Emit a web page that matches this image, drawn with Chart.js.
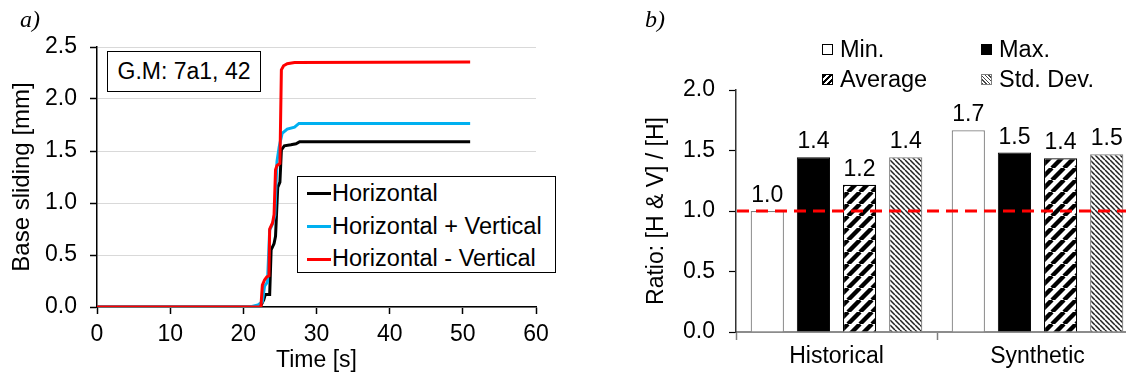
<!DOCTYPE html>
<html>
<head>
<meta charset="utf-8">
<script src="https://cdn.jsdelivr.net/npm/chart.js@4"></script>
<style>
html, body { margin: 0; overflow: hidden; background: #fff; }
body { width: 1126px; height: 376px; position: relative; font-family: "Liberation Sans", Arial, sans-serif; color: #000; }
canvas { position: absolute; top: 0; }
#slide { left: 0; }
#ratio { left: 560px; }
.panel { position: absolute; font-family: "Liberation Serif", "Times New Roman", serif; font-style: italic; font-size: 24px; }
.gm { position: absolute; left: 107px; top: 51px; width: 152px; height: 39px; border: 1.5px solid #000; font-size: 23px; line-height: 39px; text-align: center; background: #fff; }
.lgA { position: absolute; left: 297px; top: 176px; width: 257px; height: 95px; border: 1.5px solid #000; background: #fff; }
.lgA .row { position: absolute; left: 9px; font-size: 23.5px; height: 26px; line-height: 26px; white-space: nowrap; }
.lgA .ln { display: inline-block; width: 24px; height: 3px; vertical-align: middle; margin-right: 1px; position: relative; top: -1px; }
.lgB { position: absolute; font-size: 23.5px; height: 26px; line-height: 26px; white-space: nowrap; }
.sw { display: inline-block; width: 11px; height: 11px; vertical-align: middle; margin-right: 7px; position: relative; top: -1px; box-sizing: border-box; }
</style>
</head>
<body>
<canvas id="slide" width="560" height="376"></canvas>
<canvas id="ratio" width="600" height="376"></canvas>

<div class="panel" style="left:20px;top:6px">a)</div>
<div class="panel" style="left:645px;top:6px">b)</div>
<div class="gm">G.M: 7a1, 42</div>
<div class="lgA" id="legendA"></div>
<div id="legendB"></div>

<script>
// (a) base sliding time histories
const timeH  = [0, 22.3, 22.8, 23.0, 23.6, 23.8, 24.2, 24.4, 24.7, 25.0, 25.2, 25.6, 26.5, 27.2, 27.7, 51];
const slideH = [0, 0, 0.07, 0.12, 0.12, 0.55, 0.61, 0.68, 1.15, 1.2, 1.51, 1.55, 1.56, 1.57, 1.59, 1.59];

const timeHpV  = [0, 20.9, 22.0, 22.6, 22.9, 23.3, 23.6, 24.0, 24.3, 24.6, 24.9, 25.3, 26.0, 27.0, 27.6, 51];
const slideHpV = [0, 0, 0.02, 0.05, 0.2, 0.24, 0.74, 0.8, 0.88, 1.4, 1.54, 1.67, 1.71, 1.73, 1.765, 1.765];

const timeHmV  = [0, 22.4, 22.6, 22.9, 23.2, 23.5, 23.6, 24.0, 24.2, 24.4, 24.6, 25.0, 25.2, 25.5, 26.0, 27.0, 51];
const slideHmV = [0, 0, 0.21, 0.26, 0.29, 0.30, 0.75, 0.81, 0.89, 1.32, 1.36, 1.38, 2.28, 2.32, 2.34, 2.35, 2.355];

const seriesA = ["Horizontal", "Horizontal + Vertical", "Horizontal - Vertical"];
const colorsA = ["#000000", "#00b0f0", "#ff0000"];
const yTicksA = ["0.0", "0.5", "1.0", "1.5", "2.0", "2.5"];

// (b) ratio bars
const groups = ["Historical", "Synthetic"];
const ratioMin = [1.0, 1.667];
const ratioMax = [1.444, 1.483];
const ratioAvg = [1.216, 1.436];
const ratioStd = [1.444, 1.469];
const seriesB = ["Min.", "Max.", "Average", "Std. Dev."];
const yTicksB = ["0.0", "0.5", "1.0", "1.5", "2.0"];
const refRatio = 1.0;

const FONT = "Liberation Sans";
Chart.defaults.font.family = FONT;
Chart.defaults.font.size = 23;
Chart.defaults.color = "#000";

const pts = (t, v) => t.map((x, i) => ({ x: x, y: v[i] }));

new Chart(document.getElementById("slide"), {
    type: "line",
    data: {
        datasets: [
            { label: seriesA[0], data: pts(timeH, slideH), borderColor: colorsA[0], order: 3 },
            { label: seriesA[1], data: pts(timeHpV, slideHpV), borderColor: colorsA[1], order: 2 },
            { label: seriesA[2], data: pts(timeHmV, slideHmV), borderColor: colorsA[2], order: 1 }
        ]
    },
    options: {
        responsive: false,
        animation: false,
        elements: { point: { radius: 0 }, line: { borderWidth: 3, tension: 0 } },
        layout: { padding: { left: 4, top: 47, right: 24, bottom: 0 } },
        plugins: { legend: { display: false }, tooltip: { enabled: false } },
        scales: {
            x: {
                type: "linear", min: 0, max: 60,
                afterFit: s => { s.height = 69; },
                ticks: { stepSize: 10, autoSkip: false, padding: 7, maxRotation: 0 },
                grid: { drawOnChartArea: false, tickLength: 7, tickColor: "#000", tickWidth: 1.5 },
                border: { color: "#000", width: 1.5 },
                title: { display: true, text: "Time [s]", padding: { top: 0, bottom: 2 } }
            },
            y: {
                min: 0, max: 2.5,
                afterFit: s => { s.width = 93; },
                ticks: { stepSize: 0.5, padding: 13, callback: (v, i) => yTicksA[i] },
                grid: { color: "#d9d9d9", borderDash: [2, 2], tickLength: 7, tickColor: "#000", tickWidth: 1.5, tickBorderDash: [] },
                border: { color: "#000", width: 1.5 },
                title: { display: true, text: "Base sliding [mm]", font: { size: 24 }, padding: { top: 4, bottom: 0 } }
            }
        }
    }
});

// legend (a)
const lgA = document.getElementById("legendA");
seriesA.forEach((name, i) => {
    const row = document.createElement("div");
    row.className = "row";
    row.style.top = (3 + i * 32.7) + "px";
    row.innerHTML = '<span class="ln" style="background:' + colorsA[i] + '"></span>' + name;
    lgA.appendChild(row);
});

// hatch fills for (b)
const ctxB = document.getElementById("ratio").getContext("2d");
function stripes(size, width, color, dir) {
    const c = document.createElement("canvas");
    c.width = c.height = size;
    const g = c.getContext("2d");
    g.fillStyle = "#fff";
    g.fillRect(0, 0, size, size);
    g.strokeStyle = color;
    g.lineWidth = width;
    g.beginPath();
    for (let x0 = -size; x0 <= size; x0 += size) {
        if (dir === "/") { g.moveTo(x0, size); g.lineTo(x0 + size, 0); }
        else { g.moveTo(x0, 0); g.lineTo(x0 + size, size); }
    }
    g.stroke();
    return ctxB.createPattern(c, "repeat");
}
const avgFill = stripes(12, 4.4, "#000", "/");
const stdFill = stripes(5, 1.5, "#222", "\\");

const refLine = {
    id: "refLine",
    afterDatasetsDraw(chart) {
        const { ctx, chartArea } = chart;
        const y = chart.scales.y.getPixelForValue(refRatio);
        ctx.save();
        ctx.strokeStyle = "#ff0000";
        ctx.lineWidth = 3;
        ctx.setLineDash([12, 7]);
        ctx.beginPath();
        ctx.moveTo(chartArea.left + 1, y);
        ctx.lineTo(chartArea.right, y);
        ctx.stroke();
        ctx.restore();

        ctx.save();
        ctx.font = "23px '" + FONT + "'";
        ctx.fillStyle = "#000";
        ctx.textAlign = "center";
        ctx.textBaseline = "alphabetic";
        chart.data.datasets.forEach((ds, i) => {
            chart.getDatasetMeta(i).data.forEach((bar, j) => {
                ctx.fillText(ds.data[j].toFixed(1), bar.x, bar.y - 9);
            });
        });
        ctx.restore();
    }
};

new Chart(ctxB, {
    type: "bar",
    data: {
        labels: groups,
        datasets: [
            { label: seriesB[0], data: ratioMin, backgroundColor: "#fff", borderColor: "#7f7f7f", borderWidth: 1.2 },
            { label: seriesB[1], data: ratioMax, backgroundColor: "#000", borderColor: "#000", borderWidth: 1 },
            { label: seriesB[2], data: ratioAvg, backgroundColor: avgFill, borderColor: "#000", borderWidth: 1.2 },
            { label: seriesB[3], data: ratioStd, backgroundColor: stdFill, borderColor: "#7f7f7f", borderWidth: 1.2 }
        ]
    },
    options: {
        responsive: false,
        animation: false,
        categoryPercentage: 0.918,
        barPercentage: 0.72,
        layout: { padding: { left: 79, top: 90, right: 22, bottom: 0 } },
        plugins: { legend: { display: false }, tooltip: { enabled: false } },
        scales: {
            x: {
                afterFit: s => { s.height = 44; },
                ticks: { padding: 3, maxRotation: 0 },
                grid: { offset: true, drawOnChartArea: false, tickLength: 8, tickColor: "#7f7f7f", tickWidth: 1.5 },
                border: { color: "#8c8c8c", width: 2 }
            },
            y: {
                min: 0, max: 2,
                afterFit: s => { s.width = 97; },
                ticks: { stepSize: 0.5, padding: 14, callback: (v, i) => yTicksB[i] },
                grid: { drawOnChartArea: false, tickLength: 7, tickColor: "#000", tickWidth: 1.2 },
                border: { color: "#333", width: 1.5 },
                title: { display: true, text: "Ratio: [H & V] / [H]", padding: { top: 4, bottom: 0 } }
            }
        }
    },
    plugins: [refLine]
});

// legend (b), 2 x 2
const swatchCss = [
    "background:#fff;border:1px solid #000",
    "background:#000",
    "background:repeating-linear-gradient(135deg,#000 0 2.2px,#fff 2.2px 4.4px);border:1px solid #000",
    "background:repeating-linear-gradient(45deg,#444 0 1px,#fff 1px 2.6px);border:1px solid #7f7f7f"
];
const lgPos = [[822, 36], [981, 36], [822, 66], [981, 66]];
const lgB = document.getElementById("legendB");
seriesB.forEach((name, n) => {
    const d = document.createElement("div");
    d.className = "lgB";
    d.style.left = lgPos[n][0] + "px";
    d.style.top = lgPos[n][1] + "px";
    d.innerHTML = '<span class="sw" style="' + swatchCss[n] + '"></span>' + name;
    lgB.appendChild(d);
});
</script>
</body>
</html>
